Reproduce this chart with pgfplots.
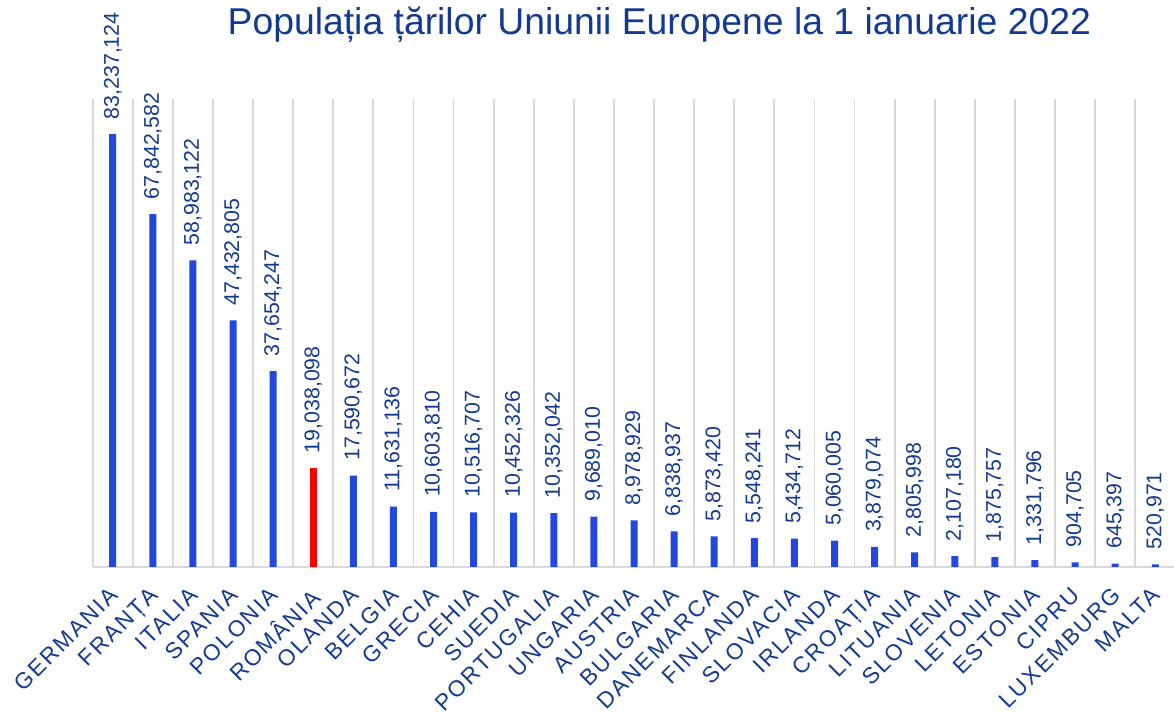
\documentclass[border=0pt]{standalone}
\usepackage{fontspec}
\setmainfont{Liberation Sans}
\newfontfamily\tickfont[LetterSpace=9]{Liberation Sans}
\usepackage{pgfplots}
\usepackage{pgfplotstable}
\pgfplotsset{compat=1.18}
\definecolor{barblue}{RGB}{35,72,224}
\definecolor{txtblue}{RGB}{18,58,145}
\definecolor{gridgray}{RGB}{217,217,217}

% population on 1 Jan 2022
\pgfplotstableread{
x y lbl
0 83237124 83,237,124
1 67842582 67,842,582
2 58983122 58,983,122
3 47432805 47,432,805
4 37654247 37,654,247
6 17590672 17,590,672
7 11631136 11,631,136
8 10603810 10,603,810
9 10516707 10,516,707
10 10452326 10,452,326
11 10352042 10,352,042
12 9689010 9,689,010
13 8978929 8,978,929
14 6838937 6,838,937
15 5873420 5,873,420
16 5548241 5,548,241
17 5434712 5,434,712
18 5060005 5,060,005
19 3879074 3,879,074
20 2805998 2,805,998
21 2107180 2,107,180
22 1875757 1,875,757
23 1331796 1,331,796
24 904705 904,705
25 645397 645,397
26 520971 520,971
}\popdata
\pgfplotstableread{
x y lbl
5 19038098 19,038,098
}\romdata

\begin{document}
\begin{tikzpicture}
\begin{axis}[
  at={(0pt,0pt)}, anchor=south west,
  scale only axis, width=812pt, height=351pt,
  xmin=-0.5, xmax=26.5, ymin=0, ymax=90000000,
  clip=false,
  hide y axis,
  axis x line*=bottom,
  x axis line style={gridgray, line width=1.5pt, -},
  xtick={0,...,26},
  xticklabels={GERMANIA,FRANȚA,ITALIA,SPANIA,POLONIA,ROMÂNIA,OLANDA,BELGIA,GRECIA,CEHIA,SUEDIA,PORTUGALIA,UNGARIA,AUSTRIA,BULGARIA,DANEMARCA,FINLANDA,SLOVACIA,IRLANDA,CROAȚIA,LITUANIA,SLOVENIA,LETONIA,ESTONIA,CIPRU,LUXEMBURG,MALTA},
  minor xtick={-0.5,0.5,...,26.5},
  xminorgrids=true,
  minor grid style={gridgray, line width=1.4pt},
  major tick length=0pt, minor tick length=0pt,
  xticklabel shift=10pt,
  xticklabel style={rotate=45, anchor=north east, inner sep=0pt, xshift=-5pt,
    font=\tickfont\fontsize{17}{20}\selectfont, text=txtblue},
  ybar, bar width=5.25pt,
  nodes near coords,
  point meta=explicit symbolic,
  nodes near coords style={rotate=90, anchor=west, inner xsep=11pt, inner ysep=0pt,
    font=\fontsize{16}{18}\selectfont, text=txtblue},
]
\addplot[fill=barblue, draw=none, bar shift=0pt] table[x=x, y=y, meta=lbl] {\popdata};
\addplot[fill=red, draw=none, bar shift=0pt] table[x=x, y=y, meta=lbl] {\romdata};
\end{axis}
\node[font=\fontsize{28}{33}\selectfont, text=txtblue, anchor=base] at (425pt,399pt)
  {Populația țărilor Uniunii Europene la 1 ianuarie 2022};
\pgfresetboundingbox
\path[use as bounding box] (-69.5pt,-109.5pt) rectangle (811pt,425.25pt);
\end{tikzpicture}
\end{document}
